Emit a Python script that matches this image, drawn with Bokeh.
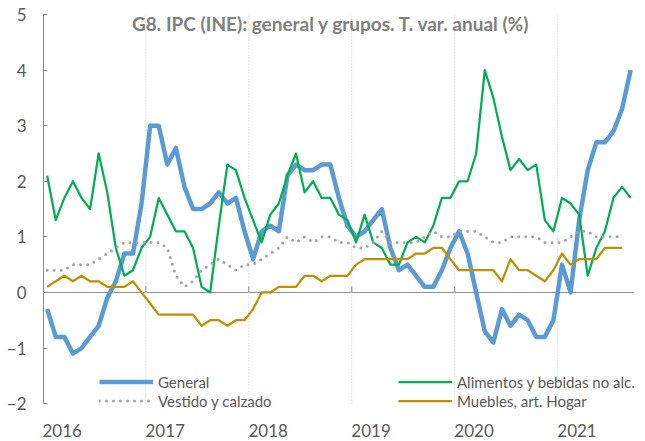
from bokeh.plotting import figure
from bokeh.models import (Range1d, FixedTicker, Legend, LegendItem, Label, Span)
from bokeh.embed import file_html
from bokeh.resources import INLINE

# ---- data (annual % change, monthly Jan-2016 .. Sep-2021) ----
years = ["2016", "2017", "2018", "2019", "2020", "2021"]

general = [-0.3, -0.8, -0.8, -1.1, -1.0, -0.8, -0.6, -0.1, 0.2, 0.7, 0.7, 1.6,
           3.0, 3.0, 2.3, 2.6, 1.9, 1.5, 1.5, 1.6, 1.8, 1.6, 1.7, 1.1,
           0.6, 1.1, 1.2, 1.1, 2.1, 2.3, 2.2, 2.2, 2.3, 2.3, 1.7, 1.2,
           1.0, 1.1, 1.3, 1.5, 0.8, 0.4, 0.5, 0.3, 0.1, 0.1, 0.4, 0.8,
           1.1, 0.7, 0.0, -0.7, -0.9, -0.3, -0.6, -0.4, -0.5, -0.8, -0.8, -0.5,
           0.5, 0.0, 1.3, 2.2, 2.7, 2.7, 2.9, 3.3, 4.0]

alimentos = [2.1, 1.3, 1.7, 2.0, 1.7, 1.5, 2.5, 1.8, 0.8, 0.3, 0.4, 0.8,
             1.0, 1.7, 1.4, 1.1, 1.1, 0.8, 0.1, 0.0, 1.2, 2.3, 2.2, 1.7,
             1.3, 0.9, 1.4, 1.6, 2.1, 2.5, 1.8, 2.0, 1.7, 1.7, 1.4, 1.3,
             0.9, 1.4, 0.9, 0.8, 0.5, 0.5, 0.9, 1.0, 0.9, 1.2, 1.7, 1.7,
             2.0, 2.0, 2.5, 4.0, 3.5, 2.8, 2.2, 2.4, 2.2, 2.3, 1.3, 1.1,
             1.7, 1.6, 1.4, 0.3, 0.8, 1.1, 1.7, 1.9, 1.7]

vestido = [0.4, 0.4, 0.4, 0.5, 0.5, 0.5, 0.6, 0.7, 0.8, 0.9, 0.9, 0.9,
           0.9, 0.9, 0.8, 0.3, 0.1, 0.2, 0.4, 0.5, 0.6, 0.5, 0.4, 0.5,
           0.5, 0.6, 0.7, 0.8, 1.0, 0.9, 1.0, 0.9, 1.0, 1.0, 0.9, 0.9,
           0.8, 0.8, 0.9, 1.1, 0.9, 0.9, 0.9, 0.9, 1.0, 1.1, 1.0, 1.0,
           1.1, 1.1, 1.1, 1.0, 0.9, 0.9, 1.0, 1.0, 1.0, 1.0, 0.9, 0.9,
           0.9, 1.0, 1.1, 1.1, 1.0, 1.0, 1.0, 1.0]

muebles = [0.1, 0.2, 0.3, 0.2, 0.3, 0.2, 0.2, 0.1, 0.1, 0.1, 0.2, 0.0,
           -0.2, -0.4, -0.4, -0.4, -0.4, -0.4, -0.6, -0.5, -0.5, -0.6, -0.5, -0.5,
           -0.3, 0.0, 0.0, 0.1, 0.1, 0.1, 0.3, 0.3, 0.2, 0.3, 0.3, 0.3,
           0.5, 0.6, 0.6, 0.6, 0.6, 0.6, 0.6, 0.7, 0.7, 0.8, 0.8, 0.6,
           0.4, 0.4, 0.4, 0.4, 0.4, 0.2, 0.6, 0.4, 0.4, 0.3, 0.2, 0.4,
           0.7, 0.5, 0.6, 0.6, 0.6, 0.8, 0.8, 0.8]

title_text = "G8. IPC (INE): general y grupos. T. var. anual (%)"

FONT = "Lato"
GRAY_TXT = "#595959"
AXIS_COL = "#8c8c8c"

Y_MIN, Y_MAX = -2, 5
Y_PAD = 0.25           # extra room below the axis so the legend is not clipped
FRAME_H = 403

x_gen = list(range(len(general)))
x_ali = list(range(len(alimentos)))
x_ves = list(range(len(vestido)))
x_mue = list(range(len(muebles)))

n_years = len(years)
boundaries = [12 * k - 0.5 for k in range(1, n_years)]
label_pos = [12 * k + 1.75 for k in range(n_years)]

p = figure(width=640, height=439,
           x_range=Range1d(-0.43, 68.45), y_range=Range1d(Y_MIN - Y_PAD, Y_MAX),
           output_backend="svg", toolbar_location=None,
           min_border_left=43, min_border_top=14, min_border_right=6,
           min_border_bottom=22)
p.outline_line_color = None
p.background_fill_color = "white"
p.border_fill_color = "white"
p.xgrid.visible = False
p.ygrid.visible = False

# vertical dotted year separators (between Dec and Jan)
p.segment(x0=boundaries, y0=[Y_MIN] * len(boundaries), x1=boundaries,
          y1=[Y_MAX] * len(boundaries), line_color="#c8c8c8", line_width=1,
          line_dash="1 2")

# y axis
ya = p.yaxis[0]
ya.ticker = FixedTicker(ticks=list(range(Y_MIN, Y_MAX + 1)))
ya.bounds = (Y_MIN, Y_MAX)
ya.axis_line_color = AXIS_COL
ya.major_tick_line_color = AXIS_COL
ya.major_tick_in = 4
ya.major_tick_out = 0
ya.minor_tick_line_color = None
ya.major_label_standoff = 17
ya.major_label_text_font = FONT
ya.major_label_text_font_size = "17px"
ya.major_label_text_color = GRAY_TXT

# x axis (year labels only)
xa = p.xaxis[0]
xa.ticker = FixedTicker(ticks=label_pos)
xa.major_label_overrides = {pos: y for pos, y in zip(label_pos, years)}
xa.axis_line_color = None
xa.major_tick_line_color = None
xa.minor_tick_line_color = None
xa.major_label_standoff = 0
xa.major_label_text_font = FONT
xa.major_label_text_font_size = "17px"
xa.major_label_text_color = GRAY_TXT

# zero line with small year ticks
p.add_layout(Span(location=0, dimension="width", line_color=AXIS_COL,
                  line_width=1, level="underlay"))
tick_h = 6 * (Y_MAX - (Y_MIN - Y_PAD)) / FRAME_H
p.segment(x0=boundaries, y0=[0] * len(boundaries), x1=boundaries,
          y1=[tick_h] * len(boundaries), line_color=AXIS_COL, line_width=1)

# series
r_gen = p.line(x_gen, general, line_color="#5b9bd5", line_width=4.5, line_join="round")
r_ali = p.line(x_ali, alimentos, line_color="#00b050", line_width=2.25, line_join="round")
r_ves = p.line(x_ves, vestido, line_color="#a5a5a5", line_width=3, line_cap="round",
               line_dash="0 7")
r_mue = p.line(x_mue, muebles, line_color="#bf9000", line_width=2.25, line_join="round")

# legends
def make_legend(items, loc):
    return Legend(items=items, location=loc, orientation="vertical",
                  glyph_width=54, glyph_height=19, label_height=19, spacing=0,
                  padding=0, margin=0, label_standoff=5,
                  label_text_font=FONT, label_text_font_size="15px",
                  label_text_color=GRAY_TXT,
                  border_line_color=None, background_fill_alpha=0)

leg1 = make_legend([LegendItem(label="General", renderers=[r_gen]),
                    LegendItem(label="Vestido y calzado", renderers=[r_ves])], (56, 7))
leg2 = make_legend([LegendItem(label="Alimentos y bebidas no alc.", renderers=[r_ali]),
                    LegendItem(label="Muebles, art. Hogar", renderers=[r_mue])], (355, 7))
p.add_layout(leg1, "center")
p.add_layout(leg2, "center")

# title inside plot
t = Label(x=33.1, y=4.83, text=title_text, text_align="center", text_baseline="middle",
          text_font=FONT, text_font_style="bold", text_font_size="19px",
          text_color="#808080")
p.add_layout(t)

open("out.html", "w").write(file_html(p, INLINE))
